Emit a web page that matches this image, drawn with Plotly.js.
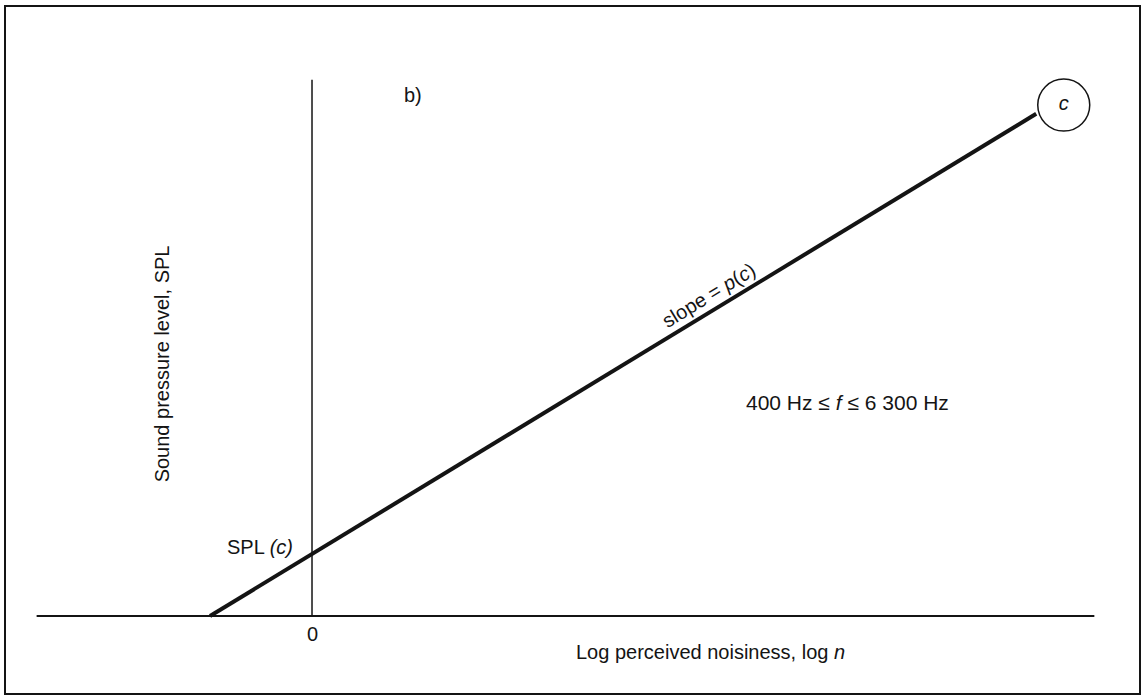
<!DOCTYPE html>
<html>
<head>
<meta charset="utf-8">
<script src="https://cdn.plot.ly/plotly-3.0.1.min.js"></script>
<style>
  html, body { margin: 0; padding: 0; background: #fff; }
  #chart { width: 1143px; height: 696px; }
</style>
</head>
<body>
<div id="chart"></div>
<script>
// Schematic: SPL versus log perceived noisiness for one frequency band
// Line: SPL = SPL(c) + p(c) * log n, drawn down to where it meets SPL = 0.
const splAtZero = 1.0;          // SPL(c), intercept at log n = 0
const slopeP = 1.0;             // p(c)
const logNStart = -1.0;         // where the line meets the horizontal axis
const logNEnd = 7.1;            // upper end of the line (at point c)
const pointC = { x: 7.37, y: 8.24 };

const horizAxisX = [-2.7, 7.67];
const horizAxisY = [0, 0];
const vertAxisX = [0, 0];
const vertAxisY = [0, 8.65];

const lineX = [logNStart, logNEnd];
const lineY = lineX.map(v => splAtZero + slopeP * v);

const ink = '#141414';
const font = 'Liberation Sans, Arial, sans-serif';

const traces = [
  { x: horizAxisX, y: horizAxisY, mode: 'lines', line: { color: ink, width: 2 }, hoverinfo: 'skip' },
  { x: vertAxisX, y: vertAxisY, mode: 'lines', line: { color: ink, width: 1.5 }, hoverinfo: 'skip' },
  { x: lineX, y: lineY, mode: 'lines', line: { color: ink, width: 4 }, hoverinfo: 'skip' },
  {
    x: [pointC.x], y: [pointC.y], mode: 'markers+text',
    marker: { symbol: 'circle', size: 52, color: '#fff', line: { color: ink, width: 1.5 } },
    text: ['<i>c</i>'], textposition: 'middle center',
    textfont: { family: font, size: 20, color: ink }, hoverinfo: 'skip'
  }
];

const ann = (x, y, text, extra) => Object.assign({
  x, y, xref: 'x', yref: 'y', text, showarrow: false,
  font: { family: font, size: 20, color: ink }
}, extra || {});

const layout = {
  width: 1143, height: 696,
  margin: { l: 0, r: 0, t: 0, b: 0 },
  paper_bgcolor: '#fff', plot_bgcolor: '#fff',
  showlegend: false,
  xaxis: { range: [-3.059, 8.147], visible: false, fixedrange: true },
  yaxis: { range: [-1.29, 9.935], visible: false, fixedrange: true },
  shapes: [{
    type: 'rect', xref: 'paper', yref: 'paper',
    x0: 5 / 1143, x1: 1140 / 1143, y0: 2 / 696, y1: 690 / 696,
    line: { color: ink, width: 2 }
  }],
  annotations: [
    ann(0.99, 8.4, 'b)'),
    ann(-0.167, 1.11, 'SPL <i>(c)</i>', { xanchor: 'right' }),
    ann(0, -0.29, '0'),
    ann(3.91, -0.58, 'Log perceived noisiness, log <i>n</i>'),
    ann(-1.47, 4.06, 'Sound pressure level, SPL', { textangle: -90 }),
    ann(5.245, 3.45, '400 Hz ≤ <i>f</i> ≤ 6 300 Hz', { font: { family: font, size: 21, color: ink } }),
    ann(3.89, 5.18, 'slope = <i>p</i>(<i>c</i>)', { textangle: -31.3 })
  ]
};

Plotly.newPlot('chart', traces, layout, { displayModeBar: false, staticPlot: true });
</script>
</body>
</html>
